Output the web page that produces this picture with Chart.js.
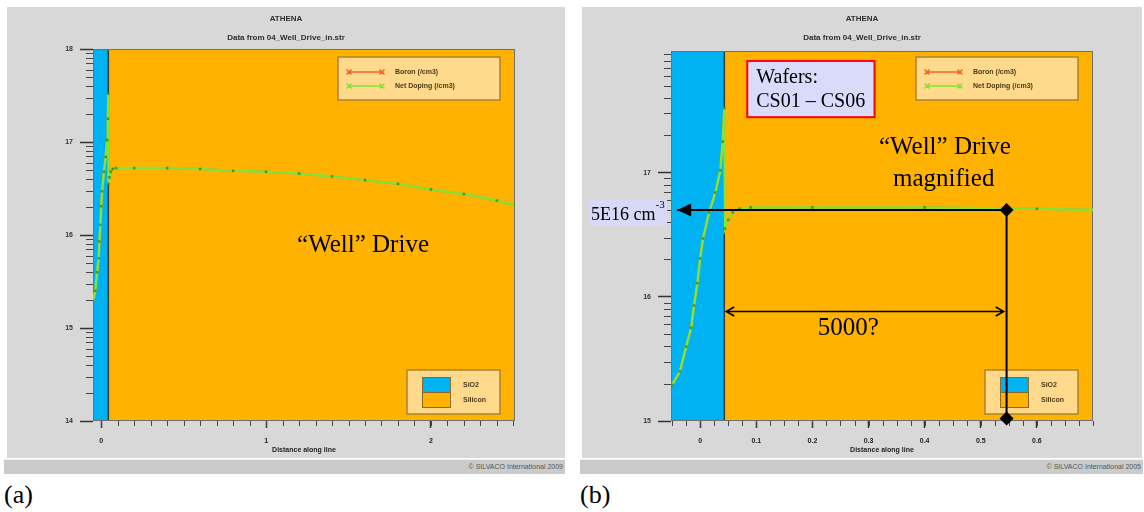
<!DOCTYPE html>
<html lang="en">
<head>
<meta charset="UTF-8">
<title>ATHENA - Well Drive</title>
<script src="https://cdn.jsdelivr.net/npm/chart.js"></script>
<style>
  body { margin: 0; width: 1144px; height: 512px; background: #fff; position: relative; overflow: hidden; font-family: "Liberation Sans", sans-serif; }
  .panel { position: absolute; top: 7px; height: 451px; background: #d8d8d8; }
  .footer { position: absolute; top: 459px; height: 15px; background: #cbcbcb; border-top: 1px solid #efefef; color: #555; font-size: 7px; line-height: 14px; text-align: right; padding-right: 2px; box-sizing: border-box; }
  .caption { position: absolute; top: 480px; font-family: "Liberation Serif", serif; font-size: 26px; color: #000; }
</style>
</head>
<body>
<div class="panel" style="left:7px;width:558px"><canvas id="chartA"></canvas></div>
<div class="footer" style="left:4px;width:561px">&copy; SILVACO International 2009</div>
<div class="caption" style="left:4px">(a)</div>

<div class="panel" style="left:582px;width:560px"><canvas id="chartB"></canvas></div>
<div class="footer" style="left:580px;width:563px">&copy; SILVACO International 2005</div>
<div class="caption" style="left:580px">(b)</div>

<script>
// profile along the cut line (distance in um, log10 of concentration in /cm3)
const distance = [-0.05, -0.036, -0.025, -0.016, -0.011, -0.005, 0, 0.005, 0.016, 0.027, 0.036, 0.040, 0.043,
    0.044, 0.05, 0.058, 0.07, 0.09, 0.2, 0.4, 0.6, 0.8, 1.0, 1.2, 1.4, 1.6, 1.8, 2.0, 2.2, 2.4, 2.51];
const netDoping = [15.29, 15.40, 15.60, 15.75, 15.93, 16.11, 16.31, 16.47, 16.68, 16.84, 17.02, 17.25, 17.52,
    16.55, 16.62, 16.68, 16.71, 16.72, 16.72, 16.72, 16.71, 16.69, 16.68, 16.66, 16.63, 16.59, 16.55, 16.49, 16.44, 16.37, 16.32];
// boron is the only dopant, so it sits right under the net doping curve
const boron = [15.29, 15.40, 15.60, 15.75, 15.93, 16.11, 16.31, 16.47, 16.68, 16.84, 17.02, 17.25, 17.52,
    16.55, 16.62, 16.68, 16.71, 16.72, 16.72, 16.72, 16.71, 16.69, 16.68, 16.66, 16.63, 16.59, 16.55, 16.49, 16.44, 16.37, 16.32];
const seriesNames = ['Boron (/cm3)', 'Net Doping (/cm3)'];

const oxideEnd = 0.043;          // SiO2 / Silicon interface
const regionNames = ['SiO2', 'Silicon'];

const xTicksA = [0, 1, 2];
const yTicksA = [14, 15, 16, 17, 18];
const xTicksB = [0, 0.1, 0.2, 0.3, 0.4, 0.5, 0.6];
const yTicksB = [15, 16, 17];

// (b) marker: 5E16 level picked off at 0.546 um
const markerX = [-0.041, 0.546, 0.546];
const markerY = [16.699, 16.699, 15.02];
const spanX = [0.0464, 0.541];
const spanY = 15.889;

const regionColors = ['#00b2f2', '#ffb300'];
const serif = '"Liberation Serif", serif';

const athenaPlugin = {
    id: 'athena',
    beforeDatasetsDraw(chart, args, opts) {
        const { ctx, chartArea: a, scales: { x, y } } = chart;
        const xi = x.getPixelForValue(oxideEnd);
        ctx.save();
        ctx.fillStyle = regionColors[0];
        ctx.fillRect(a.left, a.top, xi - a.left, a.height);
        ctx.fillStyle = regionColors[1];
        ctx.fillRect(xi, a.top, a.right - xi, a.height);
        ctx.strokeStyle = '#3a3a3a';
        ctx.lineWidth = 1.5;
        ctx.beginPath(); ctx.moveTo(xi, a.top); ctx.lineTo(xi, a.bottom); ctx.stroke();
        ctx.strokeStyle = '#707070';
        ctx.lineWidth = 1;
        ctx.strokeRect(a.left + 0.5, a.top + 0.5, a.width - 1, a.height - 1);

        // minor ticks: log decades on y, fixed step on x
        ctx.strokeStyle = '#444';
        ctx.beginPath();
        for (let d = Math.floor(y.min); d < y.max; d++) {
            for (let k = 2; k <= 9; k++) {
                const v = d + Math.log10(k);
                if (v < y.min || v > y.max) continue;
                const py = Math.round(y.getPixelForValue(v)) + 0.5;
                ctx.moveTo(a.left - 7, py); ctx.lineTo(a.left, py);
            }
        }
        const step = opts.xMinor;
        for (let i = Math.ceil(x.min / step); i * step <= x.max + 1e-9; i++) {
            const px = Math.round(x.getPixelForValue(i * step)) + 0.5;
            ctx.moveTo(px, a.bottom); ctx.lineTo(px, a.bottom + 5);
        }
        ctx.stroke();

        // series legend, top right
        const lx = a.right - 15 - 162, ly = a.top + opts.legendTop;
        ctx.fillStyle = '#ffd98c';
        ctx.strokeStyle = '#b0822c';
        ctx.lineWidth = 1.5;
        ctx.fillRect(lx, ly, 162, 43);
        ctx.strokeRect(lx, ly, 162, 43);
        ctx.font = 'bold 7px "Liberation Sans"';
        ctx.textBaseline = 'middle';
        chart.data.datasets.filter(ds => ds.label).forEach((ds, i) => {
            const ry = ly + 15 + i * 14;
            ctx.strokeStyle = ds.borderColor;
            ctx.lineWidth = 1.5;
            ctx.beginPath();
            ctx.moveTo(lx + 11, ry); ctx.lineTo(lx + 44, ry);
            [lx + 11, lx + 44].forEach(cx => {
                ctx.moveTo(cx - 2.5, ry - 2.5); ctx.lineTo(cx + 2.5, ry + 2.5);
                ctx.moveTo(cx - 2.5, ry + 2.5); ctx.lineTo(cx + 2.5, ry - 2.5);
            });
            ctx.stroke();
            ctx.fillStyle = '#4a3a18';
            ctx.fillText(ds.label, lx + 57, ry);
        });

        // material legend, bottom right
        const mx = a.right - 15 - 93, my = a.bottom - 7 - 44;
        ctx.fillStyle = '#ffd98c';
        ctx.strokeStyle = '#b0822c';
        ctx.fillRect(mx, my, 93, 44);
        ctx.strokeRect(mx, my, 93, 44);
        regionNames.forEach((name, i) => {
            ctx.fillStyle = regionColors[i];
            ctx.fillRect(mx + 15, my + 7 + i * 15, 28, 15);
            ctx.strokeStyle = '#8a6a28';
            ctx.lineWidth = 1;
            ctx.strokeRect(mx + 15.5, my + 7.5 + i * 15, 28, 15);
            ctx.fillStyle = '#4a3a18';
            ctx.fillText(name, mx + 56, my + 15 + i * 15);
        });
        ctx.restore();
    },
    afterDraw(chart, args, opts) {
        const { ctx, chartArea: a, scales: { x, y } } = chart;
        ctx.save();
        ctx.fillStyle = '#000';
        ctx.textAlign = 'center';
        ctx.textBaseline = 'alphabetic';
        ctx.font = '25px ' + serif;
        (opts.notes || []).forEach(n => {
            ctx.fillText(n.text, x.getPixelForValue(n.x), y.getPixelForValue(n.y));
        });

        if (opts.marker) {
            // filled arrow head pointing at the axis
            const px = x.getPixelForValue(markerX[0]), py = y.getPixelForValue(markerY[0]);
            ctx.beginPath();
            ctx.moveTo(px, py); ctx.lineTo(px + 14, py - 6.5); ctx.lineTo(px + 14, py + 6.5);
            ctx.closePath(); ctx.fill();

            // label for the level
            const bx = a.left - 81;
            ctx.fillStyle = '#d8d8f8';
            ctx.fillRect(bx, py - 11, 77, 27);
            ctx.fillStyle = '#000';
            ctx.textAlign = 'left';
            ctx.font = '18px ' + serif;
            ctx.fillText('5E16 cm', bx + 1, py + 9.5);
            const w = ctx.measureText('5E16 cm').width;
            ctx.font = '11px ' + serif;
            ctx.fillText('-3', bx + 1 + w, py - 2);

            // 5000? span
            const x1 = x.getPixelForValue(spanX[0]), x2 = x.getPixelForValue(spanX[1]);
            const sy = Math.round(y.getPixelForValue(spanY)) + 0.5;
            ctx.strokeStyle = '#000';
            ctx.lineWidth = 1.5;
            ctx.beginPath();
            ctx.moveTo(x1, sy); ctx.lineTo(x2, sy);
            ctx.moveTo(x1 + 8, sy - 4.5); ctx.lineTo(x1, sy); ctx.lineTo(x1 + 8, sy + 4.5);
            ctx.moveTo(x2 - 8, sy - 4.5); ctx.lineTo(x2, sy); ctx.lineTo(x2 - 8, sy + 4.5);
            ctx.stroke();

            // wafers box
            const wl = x.getPixelForValue(0.0839), wr = x.getPixelForValue(0.3107);
            const wt = y.getPixelForValue(17.90), wb = y.getPixelForValue(17.447);
            ctx.fillStyle = '#dadafa';
            ctx.fillRect(wl, wt, wr - wl, wb - wt);
            ctx.strokeStyle = '#ff0000';
            ctx.lineWidth = 2;
            ctx.strokeRect(wl, wt, wr - wl, wb - wt);
            ctx.fillStyle = '#000';
            ctx.font = '20px ' + serif;
            ctx.fillText('Wafers:', wl + 9, y.getPixelForValue(17.722));
            ctx.fillText('CS01 \u2013 CS06', wl + 9, y.getPixelForValue(17.528));
        }
        ctx.restore();
    }
};

function profile(values) {
    return distance.map((d, i) => ({ x: d, y: values[i] }));
}

function buildChart(id, cfg) {
    const tickFont = { family: 'Liberation Sans', size: 7, weight: 'bold' };
    const datasets = [
        { label: seriesNames[0], data: profile(boron), borderColor: '#f2642a', borderWidth: 2,
          pointRadius: 0, order: 2 },
        { label: seriesNames[1], data: profile(netDoping), borderColor: '#86e236', borderWidth: 2.5,
          pointRadius: 1.8, pointStyle: 'rect', pointBackgroundColor: '#4d9222',
          pointBorderWidth: 0, order: 1 }
    ];
    if (cfg.marker) {
        datasets.push({ label: '', data: markerX.map((v, i) => ({ x: v, y: markerY[i] })),
            borderColor: '#000', borderWidth: 2, pointStyle: 'rectRot', pointRadius: [0, 7, 7],
            pointBackgroundColor: '#000', pointBorderWidth: 0, clip: false, order: 0 });
    }
    return new Chart(document.getElementById(id), {
        type: 'line',
        data: { datasets },
        options: {
            responsive: true,
            maintainAspectRatio: false,
            animation: false,
            events: [],
            layout: { padding: 0 },
            plugins: {
                legend: { display: false },
                tooltip: { enabled: false },
                title: {
                    display: true,
                    text: ['ATHENA', 'Data from 04_Well_Drive_in.str'],
                    color: '#2e2e2e',
                    font: { family: 'Liberation Sans', size: 8, weight: 'bold', lineHeight: 2.375 },
                    padding: { top: 2, bottom: cfg.titleBottom }
                },
                athena: { xMinor: cfg.xMinor, legendTop: cfg.legendTop, notes: cfg.notes, marker: cfg.marker }
            },
            scales: {
                x: {
                    type: 'linear', min: cfg.xMin, max: cfg.xMax,
                    afterBuildTicks: s => { s.ticks = cfg.xTicks.map(v => ({ value: v })); },
                    afterFit: s => { s.height = 37; },
                    grid: { drawOnChartArea: false, tickLength: 7, tickColor: '#333', tickWidth: 1.5 },
                    border: { display: false },
                    ticks: { padding: 9, color: '#222', font: tickFont, autoSkip: false, maxRotation: 0,
                             callback: v => String(v) },
                    title: { display: true, text: 'Distance along line', color: '#222', font: tickFont,
                             padding: { top: 0, bottom: 4 } }
                },
                y: {
                    type: 'linear', position: 'left', min: cfg.yMin, max: cfg.yMax,
                    afterBuildTicks: s => { s.ticks = cfg.yTicks.map(v => ({ value: v })); },
                    afterFit: s => { s.width = cfg.leftW; },
                    grid: { drawOnChartArea: false, tickLength: 13, tickColor: '#333', tickWidth: 1.5 },
                    border: { display: false },
                    ticks: { padding: 7, color: '#333', font: tickFont, callback: v => String(v) }
                },
                yRight: {
                    type: 'linear', position: 'right', display: true,
                    afterFit: s => { s.width = cfg.rightW; },
                    grid: { display: false }, border: { display: false }, ticks: { display: false }
                }
            }
        },
        plugins: [athenaPlugin]
    });
}

buildChart('chartA', {
    xMin: -0.05, xMax: 2.51, yMin: 14, yMax: 18, xTicks: xTicksA, yTicks: yTicksA,
    leftW: 86, rightW: 50, titleBottom: 2, xMinor: 0.1, legendTop: 8, marker: false,
    notes: [{ text: '\u201cWell\u201d Drive', x: 1.588, y: 15.817 }]
});

buildChart('chartB', {
    xMin: -0.052, xMax: 0.70, yMin: 15, yMax: 17.98, xTicks: xTicksB, yTicks: yTicksB,
    leftW: 89, rightW: 49, titleBottom: 4, xMinor: 0.025, legendTop: 6, marker: true,
    notes: [
        { text: '\u201cWell\u201d Drive', x: 0.436, y: 17.148 },
        { text: 'magnified', x: 0.434, y: 16.889 },
        { text: '5000?', x: 0.264, y: 15.695 }
    ]
});
</script>
</body>
</html>
